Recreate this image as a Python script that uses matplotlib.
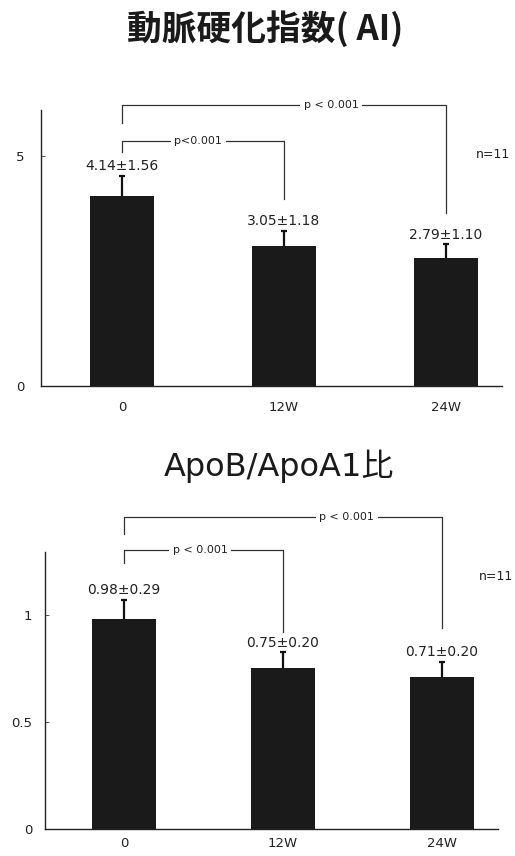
import matplotlib
matplotlib.use("Agg")
import matplotlib.pyplot as plt
import numpy as np

plt.rcParams['font.family'] = ['DejaVu Sans', 'Noto Sans CJK JP']

# ---- data ----
categories = ['0', '12W', '24W']

ai_title = '動脈硬化指数( AI)'
ai_mean = [4.14, 3.05, 2.79]
ai_sd = [1.56, 1.18, 1.10]
ai_err = [0.43, 0.32, 0.29]          # error bar length
ai_yticks = [0, 5]
ai_yticklabels = ['0', '5']

apo_title = 'ApoB/ApoA1比'
apo_mean = [0.98, 0.75, 0.71]
apo_sd = [0.29, 0.20, 0.20]
apo_err = [0.09, 0.075, 0.07]
apo_yticks = [0, 0.5, 1]
apo_yticklabels = ['0', '0.5', '1']

p_small_top = 'p<0.001'
p_text = 'p < 0.001'
n_text = 'n=11'

W, H = 515, 856
fig = plt.figure(figsize=(W / 100, H / 100), dpi=100)


def px_rect(l, t, r, b):
    return [l / W, 1 - b / H, (r - l) / W, (b - t) / H]


def panel(rect, means, sds, errs, ylim, xlim, yticks, yticklabels,
          big_br, small_br, big_tx, small_tx, small_label, ypad, xpad):
    ax = fig.add_axes(rect)
    x = np.arange(len(categories))
    ax.bar(x, means, width=0.40, color='#1a1a1a', zorder=2)
    eb = ax.errorbar(x, means, yerr=[np.zeros(len(errs)), errs], fmt='none',
                     ecolor='#111111', elinewidth=1.6, capsize=2.4,
                     capthick=1.6, zorder=3)
    caps = eb[1]
    if len(caps) == 2:
        caps[0].set_visible(False)   # no cap at the bar top
    for xi, m, s, e in zip(x, means, sds, errs):
        ax.annotate(f'{m:.2f}±{s:.2f}', (xi, m + e), xytext=(0, 7),
                    textcoords='offset points', ha='center', va='center',
                    fontsize=10, color='#222222')
    ax.set_xlim(*xlim)
    ax.set_ylim(*ylim)
    ax.set_xticks(x)
    ax.set_xticklabels(categories, fontsize=9.5, color='#222222')
    ax.set_yticks(yticks)
    ax.set_yticklabels(yticklabels, fontsize=9.5, color='#222222')
    ax.tick_params(axis='x', length=0, pad=xpad)
    ax.tick_params(axis='y', direction='in', length=3, width=0.7,
                   color='#555555', pad=ypad)
    for s in ['top', 'right']:
        ax.spines[s].set_visible(False)
    for s in ['left', 'bottom']:
        ax.spines[s].set_linewidth(1.0)
        ax.spines[s].set_color('#222222')

    lk = dict(color='#333333', lw=0.9, clip_on=False, zorder=1)
    # big bracket 0 -> 24W
    y, yl, yr = big_br
    ax.plot([0, 0, 2, 2], [yl, y, y, yr], **lk)
    ax.text(big_tx, y, p_text, ha='center', va='center', fontsize=8,
            color='#222222', clip_on=False,
            bbox=dict(facecolor='white', edgecolor='none', pad=2.5), zorder=4)
    # small bracket 0 -> 12W
    y, yl, yr = small_br
    ax.plot([0, 0, 1, 1], [yl, y, y, yr], **lk)
    ax.text(small_tx, y, small_label, ha='center', va='center', fontsize=8,
            color='#222222', clip_on=False,
            bbox=dict(facecolor='white', edgecolor='none', pad=2.5), zorder=4)
    return ax


panel(px_rect(41, 110, 502, 386), ai_mean, ai_sd, ai_err,
      (0, 6.0), (-0.5, 2.346), ai_yticks, ai_yticklabels,
      (6.11, 5.72, 3.76), (5.33, 5.09, 4.07), 1.29, 0.47, p_small_top,
      ypad=12, xpad=10.5)

panel(px_rect(45, 552, 498, 829), apo_mean, apo_sd, apo_err,
      (0, 1.294), (-0.497, 2.352), apo_yticks, apo_yticklabels,
      (1.458, 1.379, 0.939), (1.304, 1.243, 0.921), 1.40, 0.48, p_text,
      ypad=9, xpad=5.5)

fig.text(265 / W, 1 - 29 / H, ai_title, ha='center', va='center',
         fontsize=25, fontweight='bold', family=['Noto Sans CJK JP'],
         color='#1a1a1a')
fig.text(279 / W, 1 - 466 / H, apo_title, ha='center', va='center',
         fontsize=23, family=['DejaVu Sans', 'Noto Sans CJK JP'],
         color='#1a1a1a')
fig.text(493 / W, 1 - 155 / H, n_text, ha='center', va='center',
         fontsize=9, color='#222222')
fig.text(496 / W, 1 - 577 / H, n_text, ha='center', va='center',
         fontsize=9, color='#222222')

fig.savefig('out.png', dpi=100, facecolor='white')
